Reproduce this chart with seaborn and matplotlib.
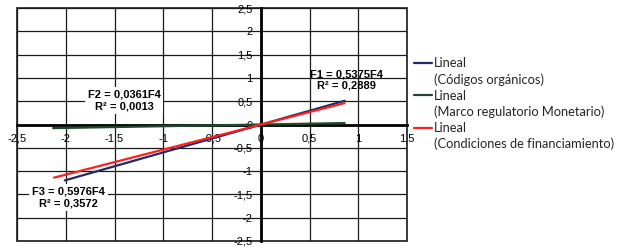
import matplotlib.pyplot as plt
import seaborn as sns
import pandas as pd
from matplotlib.lines import Line2D

# trend line end points
blue_x = [-2.01, 0.86]
blue_y = [-1.20, 0.51]
green_x = [-2.13, 0.86]
green_y = [-0.077, 0.031]
red_x = [-2.12, 0.86]
red_y = [-1.14, 0.46]

series_names = ["Códigos orgánicos", "Marco regulatorio Monetario", "Condiciones de financiamiento"]
series_colors = ["#1f2d66", "#1d4a2a", "#ff1f1f"]

x_ticks = [-2.5, -2, -1.5, -1, -0.5, 0, 0.5, 1, 1.5]
x_tick_labels = ["-2,5", "-2", "-1,5", "-1", "-0,5", "0", "0,5", "1", "1,5"]
y_ticks = [-2.5, -2, -1.5, -1, -0.5, 0, 0.5, 1, 1.5, 2, 2.5]
y_tick_labels = ["-2,5", "-2", "-1,5", "-1", "-0,5", "0", "0,5", "1", "1,5", "2", "2,5"]

eq_texts = ["F1 = 0,5375F4\nR² = 0,2889", "F2 = 0,0361F4\nR² = 0,0013", "F3 = 0,5976F4\nR² = 0,3572"]
eq_x = [0.88, -1.40, -1.97]
eq_y = [0.96, 0.515, -1.57]

df = pd.concat([
    pd.DataFrame({"x": blue_x, "y": blue_y, "serie": series_names[0]}),
    pd.DataFrame({"x": green_x, "y": green_y, "serie": series_names[1]}),
    pd.DataFrame({"x": red_x, "y": red_y, "serie": series_names[2]}),
])

sns.set_theme(style="white")
plt.rcParams['font.family'] = ['Liberation Sans', 'DejaVu Sans']

fig, ax = plt.subplots(figsize=(6.23, 2.52), dpi=100)
fig.subplots_adjust(left=0.0273, right=0.6533, bottom=0.0437, top=0.968)

sns.lineplot(data=df, x="x", y="y", hue="serie", palette=series_colors,
             linewidth=1.6, legend=False, ax=ax, zorder=3)

ax.set_xlim(-2.5, 1.5)
ax.set_ylim(-2.5, 2.5)
ax.set_xticks(x_ticks)
ax.set_xticklabels(x_tick_labels, fontweight="bold")
ax.set_yticks(y_ticks)
ax.set_yticklabels(y_tick_labels, fontweight="bold")
ax.set_xlabel("")
ax.set_ylabel("")
ax.grid(True, color="#1a1a1a", linewidth=0.9)
ax.set_axisbelow(True)

for side in ["top", "right"]:
    ax.spines[side].set_visible(False)
ax.spines["left"].set_position(("data", 0))
ax.spines["bottom"].set_position(("data", 0))
for side in ["left", "bottom"]:
    ax.spines[side].set_color("black")
    ax.spines[side].set_linewidth(2)
ax.patch.set_edgecolor("#1a1a1a")
ax.patch.set_linewidth(1.2)

ax.tick_params(axis="both", length=0, labelsize=8, colors="black")
ax.tick_params(axis="x", pad=6.5)
ax.tick_params(axis="y", pad=6)

for i, txt in enumerate(eq_texts):
    box = None if i == 0 else dict(facecolor="white", edgecolor="none", pad=2)
    ax.text(eq_x[i], eq_y[i], txt, ha="center", va="center", multialignment="center",
            fontsize=8, fontweight="bold", color="black", bbox=box, zorder=4)

handles = []
labels = []
for name, col in zip(series_names, series_colors):
    handles.append(Line2D([], [], color=col, linewidth=1.6))
    labels.append("Lineal")
    handles.append(Line2D([], [], color="none"))
    labels.append("(" + name + ")")

fig.legend(handles, labels, loc="upper left", bbox_to_anchor=(0.665, 0.772),
           frameon=False, handlelength=1.4, handletextpad=0.15, labelspacing=0.3,
           borderaxespad=0, borderpad=0, prop={"family": "Lato", "size": 9.3})

fig.savefig("out.png", dpi=100)
